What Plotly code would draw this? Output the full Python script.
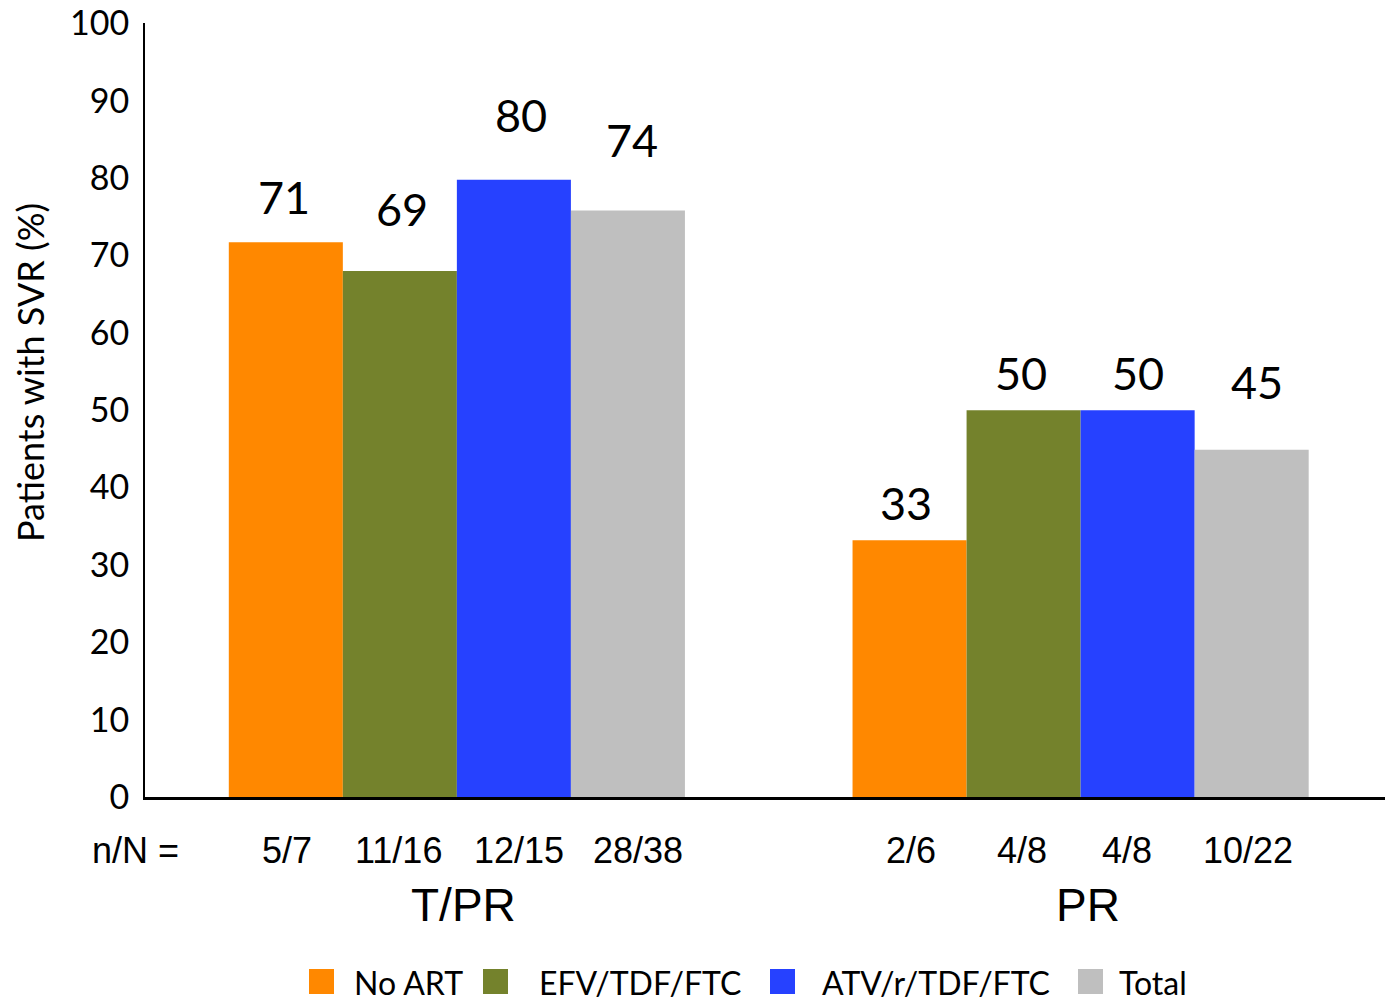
import plotly.graph_objects as go

# ---- data ----
groups = ["T/PR", "PR"]
series = ["No ART", "EFV/TDF/FTC", "ATV/r/TDF/FTC", "Total"]
no_art = [71.7, 33.2]
efv_tdf_ftc = [68.0, 50.0]
atv_r_tdf_ftc = [79.8, 50.0]
total = [75.8, 44.9]
label_no_art = ["71", "33"]
label_efv = ["69", "50"]
label_atv = ["80", "50"]
label_total = ["74", "45"]
nN_no_art = ["5/7", "2/6"]
nN_efv = ["11/16", "4/8"]
nN_atv = ["12/15", "4/8"]
nN_total = ["28/38", "10/22"]

values = [no_art, efv_tdf_ftc, atv_r_tdf_ftc, total]
labels = [label_no_art, label_efv, label_atv, label_total]
nNs = [nN_no_art, nN_efv, nN_atv, nN_total]
colors = ["#FF8800", "#74822C", "#2641FF", "#BFBFBF"]

# ---- styling (label offsets in px) ----
label_yshift = [[45, 37.5], [61.5, 37.5], [65, 37.5], [70.5, 67.5]]
label_xshift = [[-2, -4], [2, -3], [7, 0], [4, 5]]
nN_xshift = [[1, 1], [-1, -2], [5, -11], [10, -4]]

W, H = 1385, 1001
ML, MR, MT, MB = 145, 0, 23, 204
BARGAP = 0.2687
bw = (1 - BARGAP) / len(series)

def px(x):
    return (x - ML) / (W - ML - MR)

def py(y):
    return (H - MB - y) / (H - MT - MB)

gpos = list(range(len(groups)))

fig = go.Figure()
for i, name in enumerate(series):
    fig.add_trace(go.Bar(x=gpos, y=values[i], name=name,
                         marker=dict(color=colors[i], line=dict(width=0)),
                         showlegend=False))

ann = []
calibri = "Lato, Carlito, Calibri, sans-serif"
arial = "Liberation Sans, Arial, sans-serif"
for i in range(len(series)):
    for g in gpos:
        xc = g + (i - 1.5) * bw
        ann.append(dict(x=xc, y=values[i][g], xref="x", yref="y",
                        text=labels[i][g], showarrow=False,
                        xanchor="center", yanchor="middle",
                        yshift=label_yshift[i][g], xshift=label_xshift[i][g],
                        font=dict(family=calibri, size=45, color="black")))
        ann.append(dict(x=xc, y=py(850), xref="x", yref="paper",
                        text=nNs[i][g], showarrow=False,
                        xanchor="center", yanchor="middle",
                        xshift=nN_xshift[i][g],
                        font=dict(family=arial, size=36, color="black")))
for g in gpos:
    ann.append(dict(x=g, y=py(905), xref="x", yref="paper", text=groups[g],
                    showarrow=False, xanchor="center", yanchor="middle", xshift=7,
                    font=dict(family=arial, size=46, color="black")))
ann.append(dict(x=px(90), y=py(850), xref="paper", yref="paper", text="n/N =",
                showarrow=False, xanchor="left", yanchor="middle",
                font=dict(family=arial, size=36, color="black")))
ann.append(dict(x=px(30), y=py(373), xref="paper", yref="paper",
                text="Patients with SVR (%)", textangle=-90, showarrow=False,
                xanchor="center", yanchor="middle",
                font=dict(family=calibri, size=36, color="black")))

# manual legend
sq_left = [309, 483, 770, 1078]
txt_left = [352, 537, 820, 1117]
shapes = []
for i, name in enumerate(series):
    shapes.append(dict(type="rect", xref="paper", yref="paper",
                       x0=px(sq_left[i]), x1=px(sq_left[i] + 25),
                       y0=py(969), y1=py(994),
                       fillcolor=colors[i], line=dict(width=0)))
    ann.append(dict(x=px(txt_left[i]), y=py(982), xref="paper", yref="paper",
                    text=name, showarrow=False, xanchor="left", yanchor="middle",
                    font=dict(family=calibri, size=32, color="black")))

fig.update_layout(
    width=W, height=H,
    margin=dict(l=ML, r=MR, t=MT, b=MB, pad=0, autoexpand=False),
    paper_bgcolor="white", plot_bgcolor="white",
    barmode="group", bargap=BARGAP, bargroupgap=0,
    annotations=ann, shapes=shapes,
    xaxis=dict(range=[-0.5, 1.488], showticklabels=False, showgrid=False,
               zeroline=False, showline=True, linecolor="black", linewidth=2.5,
               ticks="", automargin=False),
    yaxis=dict(range=[0, 100.05], tickvals=list(range(0, 101, 10)),
               showgrid=False, zeroline=False, showline=True,
               linecolor="black", linewidth=2, ticks="", automargin=False,
               ticklabelstandoff=7, ticklabeloverflow="allow",
               tickfont=dict(family=calibri, size=34, color="black")),
)

fig.write_html("out.html")
